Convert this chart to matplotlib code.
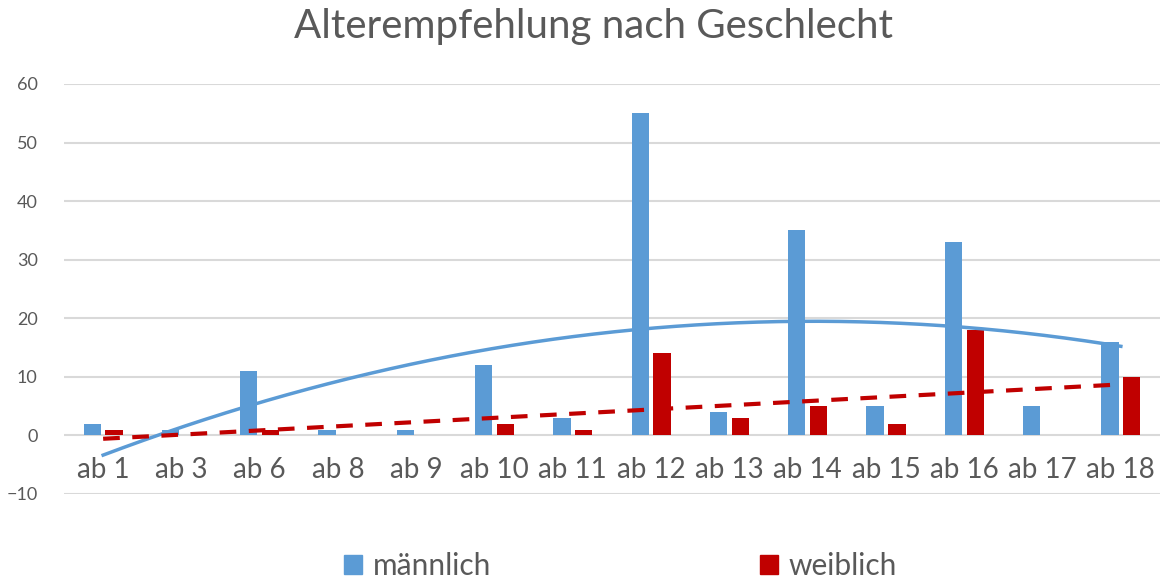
import numpy as np
import matplotlib.pyplot as plt
from matplotlib.patches import Patch

# Daten aus dem Diagramm
kategorien = ["ab 1", "ab 3", "ab 6", "ab 8", "ab 9", "ab 10", "ab 11",
              "ab 12", "ab 13", "ab 14", "ab 15", "ab 16", "ab 17", "ab 18"]
maennlich = [2, 1, 11, 1, 1, 12, 3, 55, 4, 35, 5, 33, 5, 16]
weiblich = [1, 0, 1, 0, 0, 2, 1, 14, 3, 5, 2, 18, 0, 10]

blau = "#5B9BD5"
rot = "#C00000"
grau = "#595959"

plt.rcParams['font.family'] = ['Lato', 'DejaVu Sans']

fig = plt.figure(figsize=(11.64, 5.79), dpi=100)
ax = fig.add_axes([64 / 1164, 1 - 494 / 579, (1160 - 64) / 1164, (494 - 84) / 579])

x = np.arange(1, len(kategorien) + 1)
breite = 0.22
ax.bar(x - 0.14, maennlich, width=breite, color=blau, zorder=2)
ax.bar(x + 0.14, weiblich, width=breite, color=rot, zorder=2)

# Trendlinien wie in Excel: polynomisch (2. Ordnung) und linear
xs = np.linspace(1, len(kategorien), 200)
p2 = np.polyfit(x, maennlich, 2)
ax.plot(xs, np.polyval(p2, xs), color=blau, lw=2.5, zorder=3)
p1 = np.polyfit(x, weiblich, 1)
ax.plot(xs, np.polyval(p1, xs), color=rot, lw=3, ls=(0, (4, 3)), zorder=3)

ax.set_xlim(0.5, len(kategorien) + 0.5)
ax.set_ylim(-10, 60)
ax.set_yticks(range(-10, 61, 10))
ax.yaxis.grid(True, color="#D9D9D9", lw=1.5)
ax.set_axisbelow(True)
for s in ax.spines.values():
    s.set_visible(False)
ax.tick_params(axis='y', length=0, labelsize=13, colors=grau, pad=19)
ax.set_xticks([])
for xi, lab in zip(x, kategorien):
    ax.text(xi, -3.7, lab, ha='center', va='top', fontsize=20, color=grau)

fig.text(0.51, 0.955, "Alterempfehlung nach Geschlecht", ha='center', va='center',
         fontsize=29, color=grau)

handles = [Patch(color=blau, label="männlich"), Patch(color=rot, label="weiblich")]
fig.legend(handles=handles, loc='center', bbox_to_anchor=(0.533, 0.022), ncol=2,
           frameon=False, fontsize=21.5, labelcolor=grau, handlelength=0.6,
           handleheight=0.6, handletextpad=0.35, columnspacing=9.0)

fig.savefig("out.png", dpi=100)
